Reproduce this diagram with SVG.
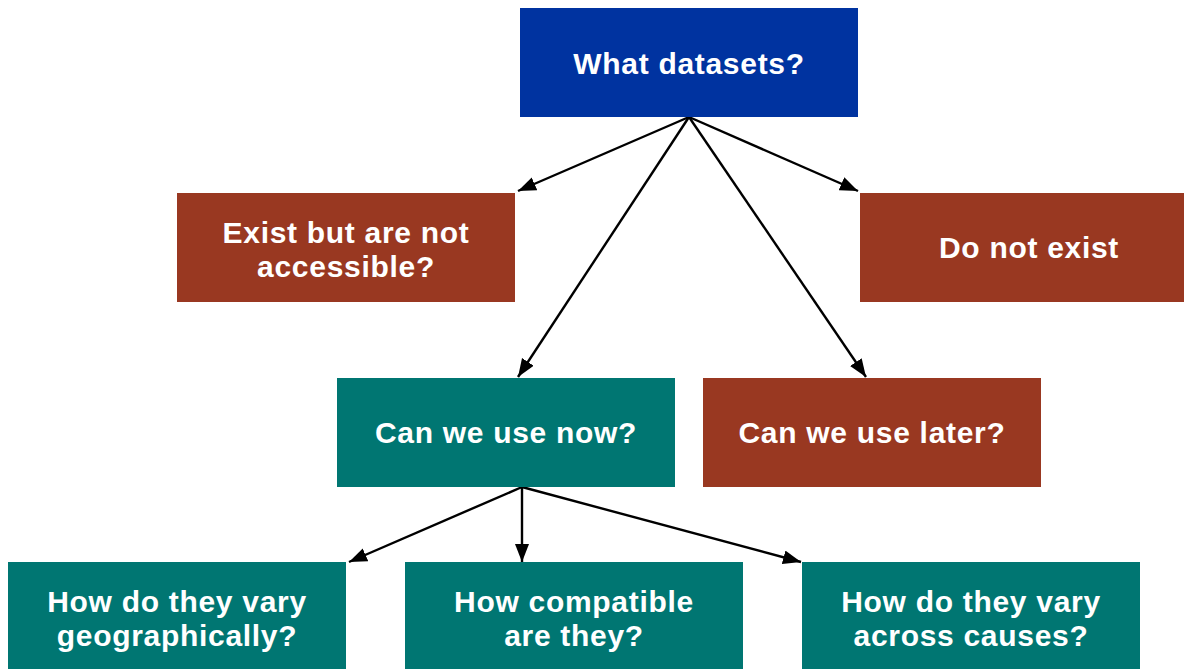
<svg xmlns="http://www.w3.org/2000/svg" width="1184" height="669" viewBox="0 0 1184 669">
  <style>
    .box-blue { fill: #0033a0; }
    .box-brown { fill: #993821; }
    .box-teal { fill: #007672; }
    .label { font-family: "Liberation Sans", Arial, sans-serif; font-weight: bold; font-size: 30px; fill: #ffffff; text-anchor: middle; letter-spacing: 0.7px; }
    .edge { stroke: #000000; stroke-width: 2.4; fill: none; marker-end: url(#arrow); }
  </style>
  <defs>
    <marker id="arrow" markerUnits="userSpaceOnUse" markerWidth="19" markerHeight="15" refX="18" refY="7" orient="auto">
      <path d="M0,0 L18,7 L0,14 z" fill="#000000"/>
    </marker>
  </defs>
  <rect width="1184" height="669" fill="#ffffff"/>

  <g id="connectors">
    <line class="edge" x1="689" y1="117" x2="518" y2="191"/>
    <line class="edge" x1="689" y1="117" x2="858" y2="191"/>
    <line class="edge" x1="689" y1="117" x2="518" y2="377"/>
    <line class="edge" x1="689" y1="117" x2="866" y2="377"/>
    <line class="edge" x1="522" y1="487" x2="349" y2="562"/>
    <line class="edge" x1="522" y1="487" x2="522" y2="562"/>
    <line class="edge" x1="522" y1="487" x2="801" y2="562"/>
  </g>

  <g id="what-datasets">
    <rect class="box-blue" x="520" y="8" width="338" height="109"/>
    <text class="label" x="689" y="74">What datasets?</text>
  </g>

  <g id="exist-not-accessible">
    <rect class="box-brown" x="177" y="193" width="338" height="109"/>
    <text class="label" x="346" y="243">Exist but are not</text>
    <text class="label" x="346" y="277">accessible?</text>
  </g>

  <g id="do-not-exist">
    <rect class="box-brown" x="860" y="193" width="338" height="109"/>
    <text class="label" x="1029" y="258">Do not exist</text>
  </g>

  <g id="use-now">
    <rect class="box-teal" x="337" y="378" width="338" height="109"/>
    <text class="label" x="506" y="443">Can we use now?</text>
  </g>

  <g id="use-later">
    <rect class="box-brown" x="703" y="378" width="338" height="109"/>
    <text class="label" x="872" y="443">Can we use later?</text>
  </g>

  <g id="vary-geographically">
    <rect class="box-teal" x="8" y="562" width="338" height="109"/>
    <text class="label" x="177" y="612">How do they vary</text>
    <text class="label" x="177" y="646">geographically?</text>
  </g>

  <g id="how-compatible">
    <rect class="box-teal" x="405" y="562" width="338" height="109"/>
    <text class="label" x="574" y="612">How compatible</text>
    <text class="label" x="574" y="646">are they?</text>
  </g>

  <g id="vary-across-causes">
    <rect class="box-teal" x="802" y="562" width="338" height="109"/>
    <text class="label" x="971" y="612">How do they vary</text>
    <text class="label" x="971" y="646">across causes?</text>
  </g>
</svg>
